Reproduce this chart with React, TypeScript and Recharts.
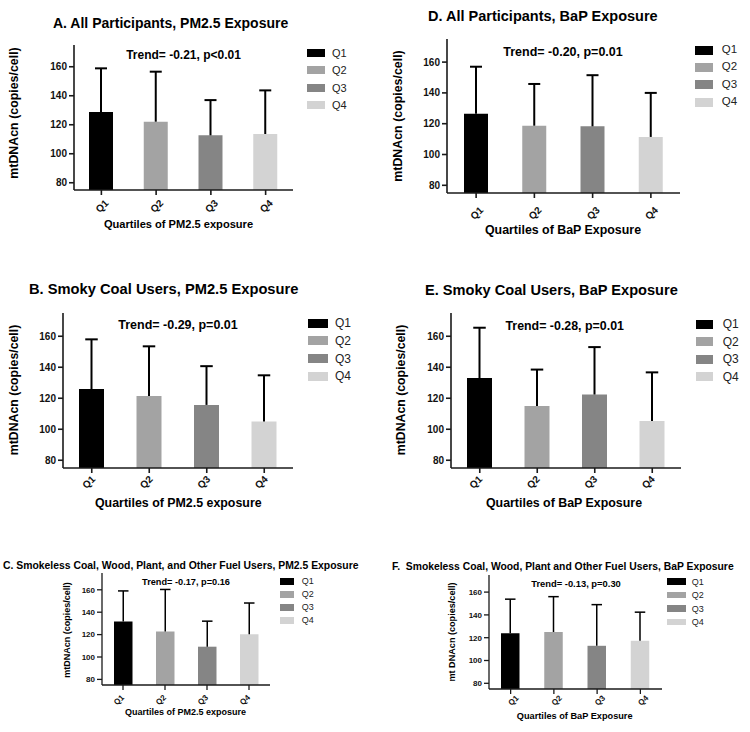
import React from "react";
import { BarChart, Bar, XAxis, YAxis, Cell } from "recharts";

// ---------- data ----------
const quartiles = ["Q1", "Q2", "Q3", "Q4"];
const quartileColors = ["#000000", "#a3a3a3", "#858585", "#d3d3d3"];
const yTicks = [80, 100, 120, 140, 160];
const yDomain: [number, number] = [75, 175];

// A. All participants, PM2.5
const meanA = [128.8, 122.1, 112.7, 113.6];
const upperA = [158.9, 156.6, 137.0, 143.7];
// D. All participants, BaP
const meanD = [126.5, 118.7, 118.3, 111.4];
const upperD = [157.0, 145.8, 151.5, 140.0];
// B. Smoky coal, PM2.5
const meanB = [125.9, 121.5, 115.7, 105.0];
const upperB = [158.0, 153.5, 140.7, 134.8];
// E. Smoky coal, BaP
const meanE = [133.0, 115.0, 122.4, 105.3];
const upperE = [165.5, 138.5, 153.0, 136.7];
// C. Smokeless coal etc., PM2.5
const meanC = [131.7, 122.7, 109.2, 120.3];
const upperC = [159.0, 160.3, 132.0, 148.2];
// F. Smokeless coal etc., BaP
const meanF = [123.9, 125.0, 112.9, 117.3];
const upperF = [153.8, 156.0, 149.0, 142.4];

const panelTitles = [
  "A. All Participants, PM2.5 Exposure",
  "D. All Participants, BaP Exposure",
  "B. Smoky Coal Users, PM2.5 Exposure",
  "E. Smoky Coal Users, BaP Exposure",
  "C. Smokeless Coal, Wood, Plant, and Other Fuel Users, PM2.5 Exposure",
  "F.  Smokeless Coal, Wood, Plant and Other Fuel Users, BaP Exposure",
];
const trendTexts = [
  "Trend= -0.21, p<0.01",
  "Trend= -0.20, p=0.01",
  "Trend= -0.29, p=0.01",
  "Trend= -0.28, p=0.01",
  "Trend= -0.17, p=0.16",
  "Trend= -0.13, p=0.30",
];
const yAxisTitles = [
  "mtDNAcn (copies/cell)",
  "mtDNAcn (copies/cell)",
  "mtDNAcn (copies/cell)",
  "mtDNAcn (copies/cell)",
  "mtDNAcn (copies/cell)",
  "mt DNAcn (copies/cell)",
];
const xAxisTitles = [
  "Quartiles of PM2.5 exposure",
  "Quartiles of BaP Exposure",
  "Quartiles of PM2.5 exposure",
  "Quartiles of BaP Exposure",
  "Quartiles of PM2.5 exposure",
  "Quartiles of BaP Exposure",
];
const panelMeans = [meanA, meanD, meanB, meanE, meanC, meanF];
const panelUppers = [upperA, upperD, upperB, upperE, upperC, upperF];

// ---------- layout / style ----------
const FONT = "'Liberation Sans', Arial, Helvetica, sans-serif";

type Cfg = {
  plot: { l: number; t: number; r: number; b: number };
  barSize: number;
  cap: number;
  errW: number;
  axisW: number;
  tickFs: number;
  qFs: number;
  qBelow: number;
  qShift: number;
  title: { x: number; y: number; fs: number };
  trend: { x: number; y: number; fs: number };
  yLab: { x: number; y: number; fs: number };
  xTitle: { x: number; y: number; fs: number };
  legend: { x: number; y: number; gap: number; w: number; h: number; lx: number; fs: number };
};

const cfgs: Cfg[] = [
  {
    plot: { l: 74, t: 45, r: 293, b: 190 }, barSize: 24, cap: 12, errW: 2, axisW: 1.6,
    tickFs: 10, qFs: 10, qBelow: 16, qShift: 0.5,
    title: { x: 53, y: 23, fs: 14 }, trend: { x: 183.5, y: 55, fs: 12 },
    yLab: { x: 14, y: 113, fs: 12.4 }, xTitle: { x: 178.5, y: 224.5, fs: 11.1 },
    legend: { x: 307, y: 53, gap: 17.3, w: 18, h: 8, lx: 332, fs: 11 },
  },
  {
    plot: { l: 447, t: 39, r: 680, b: 193 }, barSize: 24, cap: 12, errW: 2, axisW: 1.6,
    tickFs: 10, qFs: 10, qBelow: 20, qShift: 0.5,
    title: { x: 428, y: 16, fs: 14.5 }, trend: { x: 563, y: 51.7, fs: 12.5 },
    yLab: { x: 398, y: 116, fs: 12.4 }, xTitle: { x: 563, y: 230, fs: 12.4 },
    legend: { x: 695, y: 50, gap: 17.4, w: 18, h: 9, lx: 721.7, fs: 11.5 },
  },
  {
    plot: { l: 63, t: 313, r: 293, b: 468 }, barSize: 25, cap: 12.5, errW: 2, axisW: 1.6,
    tickFs: 10, qFs: 10, qBelow: 14, qShift: -3,
    title: { x: 29, y: 289, fs: 14.7 }, trend: { x: 178, y: 325, fs: 12.5 },
    yLab: { x: 14, y: 390, fs: 12.3 }, xTitle: { x: 178.3, y: 503.3, fs: 12.4 },
    legend: { x: 308, y: 323.3, gap: 17.6, w: 20, h: 9, lx: 335, fs: 12 },
  },
  {
    plot: { l: 451, t: 313, r: 681, b: 468 }, barSize: 25, cap: 12.5, errW: 2, axisW: 1.6,
    tickFs: 10, qFs: 10, qBelow: 14, qShift: -4,
    title: { x: 425, y: 290, fs: 14.6 }, trend: { x: 564.7, y: 326, fs: 12.4 },
    yLab: { x: 400.7, y: 390, fs: 12.3 }, xTitle: { x: 564, y: 503.3, fs: 12.4 },
    legend: { x: 695.7, y: 324, gap: 17.6, w: 17.3, h: 9, lx: 722.7, fs: 12 },
  },
  {
    plot: { l: 102, t: 573, r: 270, b: 685 }, barSize: 18.5, cap: 10.5, errW: 1.5, axisW: 1.3,
    tickFs: 8, qFs: 8, qBelow: 15, qShift: -4,
    title: { x: 3, y: 566, fs: 10.4 }, trend: { x: 186, y: 582.7, fs: 9.2 },
    yLab: { x: 67, y: 629.5, fs: 9 }, xTitle: { x: 185.5, y: 711.7, fs: 9 },
    legend: { x: 280, y: 581, gap: 13, w: 14, h: 7, lx: 301.7, fs: 9 },
  },
  {
    plot: { l: 489, t: 575, r: 662, b: 689 }, barSize: 18.5, cap: 10.5, errW: 1.5, axisW: 1.3,
    tickFs: 8, qFs: 8, qBelow: 11.5, qShift: 3,
    title: { x: 392, y: 566.7, fs: 10.35 }, trend: { x: 576, y: 584, fs: 9.4 },
    yLab: { x: 452.5, y: 632, fs: 9.1 }, xTitle: { x: 574.7, y: 716.7, fs: 9.2 },
    legend: { x: 667.3, y: 581.7, gap: 13.5, w: 18.3, h: 6.5, lx: 691.7, fs: 9 },
  },
];

const AXIS_COLOR = "#1a1a1a";
const TICK_SIZE = 5;
const TICK_MARGIN = 2;

function buildRows(mean: number[], upper: number[]) {
  return quartiles.map((q, i) => ({ q, mean: mean[i], range: [mean[i], upper[i]] }));
}

function ErrShape(props: any) {
  const { x, y, width, height, cap, sw } = props;
  if (x == null || y == null) return null;
  const cx = x + width / 2;
  return (
    <g>
      <line x1={cx} x2={cx} y1={y} y2={y + height} stroke="#000" strokeWidth={sw} />
      <line x1={cx - cap / 2} x2={cx + cap / 2} y1={y} y2={y} stroke="#000" strokeWidth={sw} />
    </g>
  );
}

function QTick(props: any) {
  const { x, y, payload, fs, below, shift } = props;
  const half = 0.354 * 1.334 * fs; // projection of half text length on x / y
  const axisY = y - TICK_SIZE - TICK_MARGIN;
  const px = x + shift + half;
  const py = axisY + below - half;
  return (
    <text
      x={px}
      y={py}
      transform={`rotate(-45 ${px} ${py})`}
      textAnchor="end"
      dominantBaseline="central"
      fontSize={fs}
      fontWeight="bold"
      fontFamily={FONT}
      fill="#111"
    >
      {payload.value}
    </text>
  );
}

const baseText: React.CSSProperties = {
  position: "absolute",
  whiteSpace: "pre",
  lineHeight: 1,
  fontFamily: FONT,
  color: "#000",
};

function Panel({ idx }: { idx: number }) {
  const cfg = cfgs[idx];
  const { l, t, r, b } = cfg.plot;
  const padL = 50, padT = 10, padR = 10, padB = 50;
  const W = r - l + padL + padR;
  const H = b - t + padT + padB;
  const rows = buildRows(panelMeans[idx], panelUppers[idx]);
  const axisLine = { stroke: AXIS_COLOR, strokeWidth: cfg.axisW };
  return (
    <>
      <div style={{ position: "absolute", left: l - padL, top: t - padT, width: W, height: H }}>
        <BarChart width={W} height={H} data={rows} margin={{ top: padT, right: padR, left: 0, bottom: 0 }}>
          <XAxis
            xAxisId="a"
            dataKey="q"
            height={padB}
            interval={0}
            tickSize={TICK_SIZE}
            tickMargin={TICK_MARGIN}
            axisLine={axisLine}
            tickLine={axisLine}
            tick={(p: any) => <QTick {...p} fs={cfg.qFs} below={cfg.qBelow} shift={cfg.qShift} />}
          />
          <XAxis xAxisId="b" dataKey="q" hide />
          <YAxis
            width={padL}
            domain={yDomain}
            ticks={yTicks}
            allowDataOverflow
            interval={0}
            tickSize={TICK_SIZE}
            tickMargin={TICK_MARGIN}
            axisLine={axisLine}
            tickLine={axisLine}
            tick={{ fontSize: cfg.tickFs, fontWeight: "bold", fill: "#111", fontFamily: FONT }}
          />
          <Bar xAxisId="a" dataKey="mean" barSize={cfg.barSize} isAnimationActive={false}>
            {rows.map((row, i) => (
              <Cell key={row.q} fill={quartileColors[i]} />
            ))}
          </Bar>
          <Bar
            xAxisId="b"
            dataKey="range"
            barSize={cfg.barSize}
            isAnimationActive={false}
            shape={(p: any) => <ErrShape {...p} cap={cfg.cap} sw={cfg.errW} />}
          />
        </BarChart>
      </div>
      <div
        style={{ ...baseText, left: cfg.title.x, top: cfg.title.y, fontSize: cfg.title.fs, fontWeight: "bold", transform: "translate(0,-50%)" }}
      >
        {panelTitles[idx]}
      </div>
      <div
        style={{ ...baseText, left: cfg.trend.x, top: cfg.trend.y, fontSize: cfg.trend.fs, fontWeight: "bold", transform: "translate(-50%,-50%)" }}
      >
        {trendTexts[idx]}
      </div>
      <div
        style={{ ...baseText, left: cfg.yLab.x, top: cfg.yLab.y, fontSize: cfg.yLab.fs, fontWeight: "bold", transform: "translate(-50%,-50%) rotate(-90deg)" }}
      >
        {yAxisTitles[idx]}
      </div>
      <div
        style={{ ...baseText, left: cfg.xTitle.x, top: cfg.xTitle.y, fontSize: cfg.xTitle.fs, fontWeight: "bold", transform: "translate(-50%,-50%)" }}
      >
        {xAxisTitles[idx]}
      </div>
      {quartiles.map((q, i) => {
        const cy = cfg.legend.y + i * cfg.legend.gap;
        return (
          <React.Fragment key={q}>
            <div
              style={{
                position: "absolute",
                left: cfg.legend.x,
                top: cy - cfg.legend.h / 2,
                width: cfg.legend.w,
                height: cfg.legend.h,
                background: quartileColors[i],
              }}
            />
            <div
              style={{ ...baseText, left: cfg.legend.lx, top: cy, fontSize: cfg.legend.fs, color: "#222", transform: "translate(0,-50%)" }}
            >
              {q}
            </div>
          </React.Fragment>
        );
      })}
    </>
  );
}

export default function App() {
  return (
    <div style={{ position: "absolute", left: 0, top: 0, width: 750, height: 732, background: "#fff", overflow: "hidden" }}>
      {cfgs.map((_, i) => (
        <Panel key={i} idx={i} />
      ))}
    </div>
  );
}
